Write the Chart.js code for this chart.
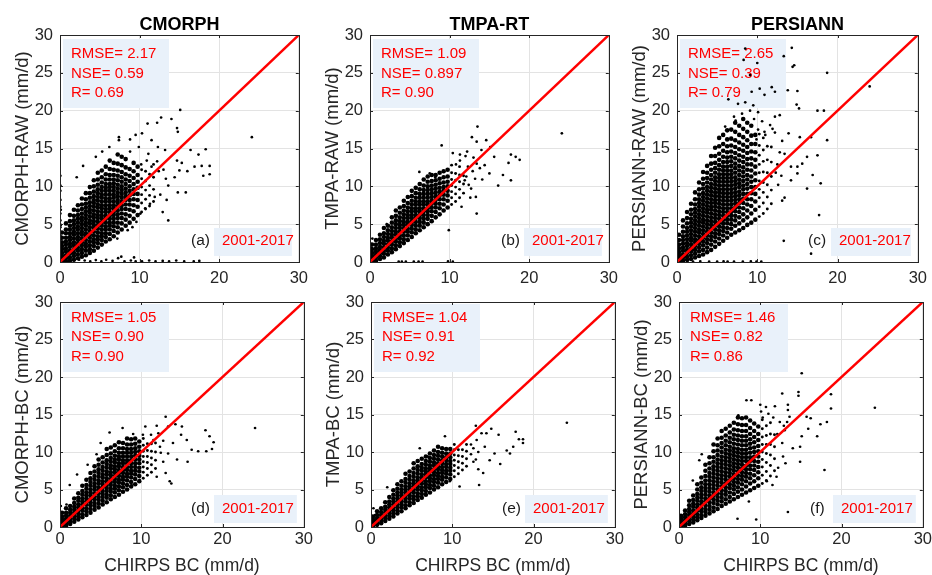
<!DOCTYPE html>
<html>
<head>
<meta charset="utf-8">
<script src="https://cdn.jsdelivr.net/npm/chart.js@4.4.1/dist/chart.umd.min.js"></script>
<style>
  html, body { margin: 0; padding: 0; background: #fff; overflow: hidden; }
  body { width: 932px; height: 575px; position: relative; }
  canvas { position: absolute; }
</style>
</head>
<body>
<div id="wrap"></div>
<script>
const xTicks = [0, 10, 20, 30];
const yTicks = [0, 5, 10, 15, 20, 25, 30];
const oneToOne = [[0, 0], [30, 30]];
const products = ['CMORPH', 'TMPA-RT', 'PERSIANN'];
const yTitles = ['CMORPH-RAW (mm/d)', 'TMPA-RAW (mm/d)', 'PERSIANN-RAW (mm/d)',
                 'CMORPH-BC (mm/d)', 'TMPA-BC (mm/d)', 'PERSIANN-BC (mm/d)'];
const xTitle = 'CHIRPS BC (mm/d)';
const panelTags = ['(a)', '(b)', '(c)', '(d)', '(e)', '(f)'];
const period = '2001-2017';
const rmse = ['2.17', '1.09', '2.65', '1.05', '1.04', '1.46'];
const nse = ['0.59', '0.897', '0.39', '0.90', '0.91', '0.82'];
const corr = ['0.69', '0.90', '0.79', '0.90', '0.92', '0.86'];

// CHIRPS BC value of each column of the dense part of the clouds
const colX = [0.25,0.75,1.25,1.75,2.25,2.75,3.25,3.75,4.25,4.75,5.25,5.75,6.25,6.75,7.25,7.75,8.25,8.75,9.25,9.75];
// columns of the thinner part just right of it
const outerX = [10.25, 10.75, 11.25, 11.75];

const cmorphRawCore = [
[0.1,0.4,0.8,1.2,1.7,2.1,2.6,3.2,3.9],
[0.1,0.5,0.9,1.4,1.8,2.3,2.7,3.2,3.8,4.3,5.1],
[0.2,0.6,1.1,1.5,2.0,2.4,2.9,3.3,3.8,4.3,4.8,5.4,6.2],
[0.3,0.8,1.2,1.7,2.2,2.6,3.1,3.6,4.0,4.5,5.0,5.5,6.1,6.9],
[0.5,1.0,1.5,1.9,2.4,2.9,3.3,3.8,4.3,4.7,5.2,5.7,6.2,6.8,7.5],
[0.7,1.2,1.7,2.2,2.6,3.1,3.6,4.0,4.5,5.0,5.5,5.9,6.4,7.0,7.6,8.4],
[0.9,1.5,2.0,2.4,2.9,3.4,3.8,4.3,4.8,5.2,5.7,6.2,6.7,7.2,7.7,8.3,9.1],
[1.2,1.7,2.2,2.7,3.2,3.6,4.1,4.6,5.1,5.5,6.0,6.5,6.9,7.4,7.9,8.5,9.1,9.9],
[1.5,2.1,2.6,3.0,3.5,4.0,4.5,4.9,5.4,5.9,6.3,6.8,7.3,7.8,8.2,8.7,9.3,10.0,10.8],
[1.9,2.5,3.0,3.4,3.9,4.4,4.8,5.3,5.8,6.2,6.7,7.2,7.6,8.1,8.6,9.1,9.6,10.2,10.9,11.8],
[2.3,2.9,3.4,3.8,4.3,4.8,5.2,5.7,6.1,6.6,7.1,7.5,8.0,8.5,8.9,9.4,9.9,10.5,11.2,12.1],
[2.7,3.3,3.8,4.3,4.7,5.2,5.7,6.1,6.6,7.0,7.5,8.0,8.4,8.9,9.4,9.8,10.3,10.9,11.6,12.6],
[3.0,3.7,4.3,4.8,5.2,5.7,6.1,6.6,7.1,7.5,8.0,8.4,8.9,9.4,9.9,10.3,10.9,11.5,12.3,13.4],
[3.4,4.1,4.7,5.2,5.7,6.2,6.6,7.1,7.5,8.0,8.5,8.9,9.4,9.9,10.4,10.9,11.5,12.2,13.1],
[3.9,4.6,5.2,5.8,6.3,6.8,7.3,7.8,8.2,8.7,9.2,9.7,10.2,10.8,11.4,12.1,13.0,14.2],
[4.3,5.1,5.8,6.4,7.0,7.5,8.0,8.5,9.0,9.5,10.0,10.6,11.2,11.9,12.8,13.9],
[4.8,5.6,6.3,7.0,7.6,8.2,8.7,9.2,9.7,10.3,10.9,11.6,12.5,13.6],
[5.2,6.1,6.9,7.6,8.2,8.8,9.4,10.0,10.7,11.4,12.3],
[5.7,6.7,7.5,8.3,9.0,9.6,10.3,11.1,12.0,13.1],
[6.2,7.3,8.2,9.0,9.8,10.6,11.5,12.6]];
const cmorphRawOuter = [[6.6,7.8,8.9,9.9,11.0,12.2],[7.0,8.3,9.5,10.7,12.0],[7.4,8.8,10.1,11.6],[8.0,9.6,11.2,12.9]];
const cmorphRawSpread = [[15.1,20.1],[12.7,19.1],[14.0,18.9],[11.0,18.3],[12.2,18.4],[7.4,16.5],[8.8,16.2],
[14.7,17.7],[14.8,17.2],[18.3,14.9],[17.4,14.2],[16.4,14.8],[16.9,12.6],[17.8,12.7],[18.8,12.7],[18.8,11.6],
[18.0,11.4],[16.0,12.0],[14.7,13.4],[15.3,13.1],[15.0,12.1],[14.4,11.2],[13.6,10.1],[14.8,9.2],[15.8,9.2],
[13.4,8.2],[12.9,6.6],[13.6,5.5],[11.3,7.7],[11.9,8.6],[10.1,6.4],[10.7,7.1],[24.1,16.5],[7.2,3.1],
[2.9,12.7],[2.1,11.2],[4.5,13.9],[5.3,14.6],[6.2,15.2],[7.4,16.1],[9.5,16.8],[10.3,17.0],[11.5,16.1],
[12.3,15.2],[11.1,14.3],[13.2,14.8],[9.9,15.2],[8.8,14.6],[10.2,12.9],[10.9,13.4],[11.5,12.6],
[12.2,13.3],[13.0,12.2],[13.3,11.0],[12.4,12.0],[12.6,8.9],[8.5,4.2],[9.6,5.3],[9.1,4.6],
[2.4,0.3],[3.1,0.2],[3.8,0.1],[4.5,0.25],[5.2,0.1],[5.8,0.3],[6.6,0.15],[7.3,0.5],[8.1,0.1],[8.9,0.2],
[9.5,0.1],[10.3,0.1],[11.2,0.2],[12.0,0.1],[12.9,0.15],[13.7,0.1],[14.6,0.2],[15.6,0.1],[16.8,0.1],
[17.5,0.15],[7.7,0.7],[9.3,0.6],[0.05,3.5],[0.05,4.6],[0.05,5.5],[0.05,6.4],[0.05,7.3],[0.05,8.2],
[0.05,9.4],[0.05,10.1],[0.05,11.4],[0.1,6.9],[0.1,4.9]];

const tmpaRawCore = [
[0.1,0.4,0.8,1.2,1.7,2.3],
[0.2,0.6,1.0,1.4,1.8,2.3,2.9],
[0.4,0.8,1.2,1.6,2.0,2.5,3.0,3.6],
[0.6,1.1,1.5,1.9,2.4,2.8,3.3,3.8,4.5],
[1.0,1.5,1.9,2.3,2.8,3.2,3.7,4.2,4.8],
[1.3,1.8,2.3,2.7,3.2,3.6,4.1,4.6,5.2,5.9],
[1.7,2.2,2.7,3.1,3.6,4.0,4.5,5.0,5.5,6.1,6.8],
[2.1,2.6,3.1,3.5,4.0,4.5,4.9,5.4,5.9,6.5,7.2],
[2.5,3.0,3.5,4.0,4.4,4.9,5.3,5.8,6.3,6.8,7.4,8.1],
[2.9,3.5,4.0,4.4,4.9,5.3,5.8,6.2,6.7,7.2,7.8,8.6],
[3.3,3.9,4.4,4.9,5.3,5.8,6.2,6.7,7.1,7.6,8.1,8.7,9.4],
[3.8,4.3,4.8,5.3,5.8,6.2,6.7,7.1,7.6,8.0,8.5,9.1,9.8],
[4.2,4.8,5.3,5.8,6.2,6.7,7.1,7.6,8.0,8.5,9.0,9.6,10.3],
[4.6,5.2,5.7,6.2,6.7,7.1,7.6,8.0,8.5,9.0,9.5,10.1,10.9],
[5.0,5.7,6.2,6.7,7.1,7.6,8.0,8.5,9.0,9.5,10.0,10.6,11.3],
[5.4,6.1,6.7,7.2,7.7,8.1,8.6,9.1,9.6,10.1,10.7,11.5],
[5.9,6.6,7.2,7.7,8.2,8.7,9.2,9.7,10.2,10.8,11.5],
[6.3,7.1,7.7,8.3,8.8,9.3,9.8,10.4,11.0,11.8],
[6.8,7.6,8.3,8.9,9.4,9.9,10.5,11.2,12.0],
[7.2,8.1,8.8,9.4,10.0,10.6,11.3,12.2]];
const tmpaRawOuter = [[7.6,8.5,9.3,10.1,10.9,11.8,12.8],[8.0,9.0,9.9,10.8,11.7],[8.5,9.6,10.6,11.5,12.6],[9.1,10.3,11.4]];
const tmpaRawSpread = [[13.5,17.9],[12.8,16.5],[13.4,15.9],[14.6,16.1],[9.0,15.4],[10.4,14.4],[11.3,14.2],
[12.2,14.6],[14.0,14.8],[15.1,15.2],[15.6,13.9],[17.7,14.2],[18.3,13.9],[18.8,13.5],[17.4,13.1],[17.7,10.8],
[16.7,11.5],[16.1,10.1],[15.0,11.7],[14.4,12.8],[13.4,13.0],[12.3,12.6],[11.9,10.8],[12.7,9.7],[13.3,8.6],
[13.4,6.4],[11.5,7.3],[9.9,4.2],[6.2,11.9],[7.5,11.7],[8.2,11.2],[2.1,5.0],[1.8,3.3],[0.3,3.1],[24.1,17.0],
[12.1,11.3],[12.4,10.2],[10.8,12.9],[12.9,12.0],[13.2,11.0],[12.6,8.5],[13.8,12.4],[14.1,10.9],[13.0,13.8],
[11.3,13.4],[12.0,14.0],[3.6,0.05],[4.0,0.05],[4.5,0.05],[5.5,0.05],[6.1,0.05],[6.6,0.05],[9.8,0.1],[10.4,0.05]];

const persiannRawCore = [
[0.1,0.5,0.9,1.3,1.8,2.3,2.9,3.6],
[0.2,0.6,1.0,1.5,1.9,2.4,2.9,3.4,4.0,4.7,5.5],
[0.3,0.7,1.2,1.6,2.1,2.5,3.0,3.5,4.0,4.5,5.1,5.8,6.6],
[0.4,0.9,1.4,1.8,2.3,2.8,3.2,3.7,4.2,4.7,5.2,5.7,6.3,6.9,7.7],
[0.6,1.1,1.6,2.1,2.6,3.0,3.5,4.0,4.5,5.0,5.5,6.0,6.5,7.0,7.6,8.3,9.2],
[0.8,1.4,1.9,2.4,2.9,3.4,3.9,4.3,4.8,5.3,5.8,6.3,6.8,7.3,7.8,8.3,8.9,9.6,10.5],
[1.0,1.6,2.2,2.7,3.2,3.7,4.2,4.7,5.2,5.6,6.1,6.6,7.1,7.6,8.1,8.6,9.1,9.7,10.3,11.0,11.9],
[1.3,1.9,2.5,3.0,3.5,4.0,4.5,5.0,5.5,6.0,6.5,6.9,7.4,7.9,8.4,8.9,9.4,9.9,10.5,11.1,11.8,12.7],
[1.6,2.3,2.9,3.4,3.9,4.4,4.9,5.4,5.9,6.4,6.9,7.3,7.8,8.3,8.8,9.3,9.8,10.3,10.9,11.5,12.2,13.0,14.0],
[2.0,2.7,3.3,3.8,4.3,4.8,5.3,5.8,6.3,6.8,7.3,7.8,8.2,8.7,9.2,9.7,10.2,10.7,11.2,11.8,12.4,13.1,14.0,15.1],
[2.4,3.1,3.7,4.2,4.7,5.2,5.7,6.2,6.7,7.2,7.7,8.2,8.7,9.2,9.6,10.1,10.6,11.1,11.6,12.2,12.8,13.5,14.3,15.3,16.4],
[2.8,3.5,4.1,4.6,5.1,5.6,6.1,6.6,7.1,7.6,8.1,8.6,9.1,9.6,10.1,10.6,11.1,11.6,12.1,12.6,13.2,13.9,14.7,15.6,16.8],
[3.2,3.9,4.5,5.1,5.6,6.1,6.6,7.1,7.6,8.1,8.6,9.1,9.6,10.1,10.6,11.1,11.6,12.1,12.6,13.2,13.8,14.5,15.3,16.2,17.4],
[3.6,4.4,5.0,5.6,6.1,6.6,7.1,7.6,8.1,8.6,9.1,9.6,10.1,10.6,11.1,11.6,12.1,12.7,13.3,13.9,14.6,15.4,16.3,17.5],
[3.9,4.8,5.5,6.1,6.7,7.2,7.7,8.2,8.7,9.2,9.7,10.2,10.7,11.2,11.8,12.4,13.0,13.7,14.4,15.2,16.1,17.2,18.4],
[4.2,5.1,5.9,6.6,7.2,7.8,8.3,8.8,9.3,9.9,10.4,10.9,11.5,12.1,12.7,13.4,14.1,14.9,15.8,16.8,18.0],
[4.5,5.5,6.3,7.1,7.8,8.4,9.0,9.6,10.1,10.7,11.3,11.9,12.5,13.2,13.9,14.7,15.5,16.5,17.6,18.9],
[4.9,5.9,6.8,7.6,8.3,9.0,9.7,10.3,10.9,11.5,12.2,12.9,13.6,14.4,15.2,16.1,17.2,18.4],
[5.2,6.4,7.4,8.3,9.1,9.9,10.6,11.3,12.1,12.9,13.7,14.6,15.6,16.7,18.0],
[5.6,6.9,8.0,9.0,9.9,10.8,11.7,12.6,13.5,14.5,15.6,16.8]];
const persiannRawOuter = [[6.0,7.3,8.5,9.6,10.7,11.8,12.9,14.1,15.4,16.9],[6.4,7.8,9.2,10.5,11.9,13.3,14.8,16.4],
[7.0,8.6,10.2,11.8,13.5,15.3],[7.7,9.5,11.3,13.2,15.2]];
const persiannRawSpread = [[14.3,28.3],[14.6,26.0],[14.4,25.8],[18.7,25.0],[24.0,23.2],[13.3,27.2],[13.8,22.7],
[15.0,22.6],[14.9,20.8],[15.2,20.3],[17.5,20.0],[18.3,20.0],[18.7,16.1],[16.7,16.5],[15.3,16.5],[13.9,17.0],
[17.5,14.1],[16.2,13.9],[15.6,13.0],[15.0,12.6],[14.2,12.6],[15.0,11.7],[14.2,10.8],[16.9,11.5],[17.9,10.4],
[16.2,9.7],[13.4,8.5],[13.1,8.1],[17.7,6.2],[13.3,2.8],[16.7,1.1],[12.2,19.2],[12.8,19.4],[11.6,18.1],
[11.9,17.6],[10.9,17.2],[10.1,19.8],[9.1,20.0],[8.1,19.6],[7.1,19.2],[8.5,21.1],[9.3,22.5],[10.3,22.9],
[10.9,22.1],[11.8,23.1],[12.2,22.5],[7.6,20.9],[9.1,24.7],[8.3,26.7],[8.5,28.2],[10.0,26.3],[6.4,21.5],
[9.5,20.7],[7.3,18.7],[6.0,17.9],[12.3,11.8],[12.6,10.2],[12.8,14.5],[13.1,16.0],[12.2,17.1],
[12.5,12.9],[13.4,14.3],[13.0,11.4],[10.1,17.5],[10.6,18.6],[9.6,18.9],[9.9,16.2],[11.0,16.8],
[0.6,0.05],[1.3,0.05],[2.0,0.05],[2.9,0.1],[4.0,0.05],[5.0,0.05],[5.8,0.1],[6.3,0.05],
[7.1,0.05],[8.2,0.05],[9.2,0.1],[9.9,0.05],[10.5,0.05],[0.05,1.5],[0.05,2.5],[0.05,3.6]];

const cmorphBcCore = [
[0.1,0.4,0.7,1.0,1.4,1.9],
[0.2,0.5,0.8,1.1,1.5,1.9,2.5],
[0.4,0.7,1.1,1.5,1.9,2.3,2.8],
[0.7,1.1,1.5,1.9,2.3,2.7,3.2,3.8],
[1.0,1.4,1.8,2.2,2.6,3.0,3.5,3.9,4.5],
[1.3,1.7,2.2,2.6,3.0,3.4,3.8,4.3,4.8,5.5],
[1.6,2.1,2.5,3.0,3.4,3.8,4.2,4.6,5.1,5.6,6.3],
[1.9,2.4,2.9,3.3,3.7,4.2,4.6,5.0,5.5,6.0,6.5,7.2],
[2.3,2.8,3.2,3.7,4.1,4.5,5.0,5.4,5.8,6.3,6.8,7.4,8.1],
[2.6,3.1,3.6,4.0,4.5,4.9,5.3,5.8,6.2,6.7,7.2,7.7,8.3,9.0],
[3.0,3.5,4.0,4.4,4.8,5.3,5.7,6.1,6.6,7.0,7.5,8.0,8.6,9.3],
[3.3,3.9,4.3,4.8,5.2,5.6,6.1,6.5,7.0,7.4,7.9,8.4,8.9,9.6,10.4],
[3.7,4.2,4.7,5.1,5.6,6.0,6.4,6.9,7.3,7.8,8.2,8.7,9.2,9.8,10.6],
[4.0,4.6,5.1,5.5,6.0,6.4,6.8,7.3,7.7,8.1,8.6,9.0,9.5,10.1,10.9],
[4.3,4.9,5.4,5.9,6.3,6.8,7.2,7.6,8.1,8.5,9.0,9.4,9.9,10.5,11.3],
[4.7,5.3,5.8,6.3,6.7,7.2,7.6,8.0,8.5,8.9,9.4,9.9,10.5,11.2],
[5.0,5.6,6.2,6.7,7.1,7.6,8.0,8.5,8.9,9.4,9.9,10.4,11.0,11.8],
[5.4,6.0,6.6,7.1,7.5,8.0,8.5,8.9,9.4,9.9,10.4,11.0,11.7],
[5.7,6.4,7.0,7.5,8.0,8.5,9.0,9.5,10.0,10.5,11.1,11.8],
[6.1,6.8,7.4,7.9,8.5,9.0,9.5,10.1,10.7,11.4]];
const cmorphBcOuter = [[6.5,7.3,8.0,8.7,9.4,10.1,10.9,11.8],[6.9,7.8,8.6,9.4,10.2,11.1],[7.3,8.3,9.2,10.1,11.1],[7.8,8.9,10.0,11.2]];
const cmorphBcSpread = [[13.0,14.7],[14.2,13.7],[11.9,13.5],[10.5,13.4],[7.7,13.2],[9.0,12.4],[13.3,13.4],
[15.0,13.4],[17.9,12.9],[18.4,12.1],[18.9,11.3],[18.7,10.4],[18.0,10.1],[17.0,10.1],[16.2,10.3],[15.7,8.7],
[14.4,9.0],[13.5,6.1],[13.7,5.8],[13.0,7.2],[11.9,6.7],[24.0,13.2],[6.1,12.6],[5.0,11.2],[4.5,9.7],[3.4,8.3],
[2.1,7.0],[1.2,5.6],[0.8,3.0],[0.1,2.8],[14.9,12.3],[15.6,11.6],[13.9,11.2],[13.3,9.8],[12.3,10.7],[12.7,8.7],
[11.5,11.6],[10.2,12.3],[12.1,12.5],[9.8,6.3],[8.8,5.6],[12.4,9.9],[12.7,11.5],[11.2,12.3]];

const tmpaBcCore = [
[0.1,0.4,0.7,1.0,1.4],
[0.3,0.6,0.9,1.2,1.6,2.1],
[0.5,0.9,1.2,1.6,2.0,2.5],
[0.8,1.2,1.5,1.9,2.3,2.7,3.3],
[1.1,1.5,1.9,2.2,2.6,3.0,3.4,4.0],
[1.4,1.8,2.2,2.6,3.0,3.4,3.8,4.3,4.9],
[1.8,2.2,2.6,3.0,3.4,3.8,4.2,4.6,5.1,5.7],
[2.1,2.6,3.0,3.4,3.8,4.2,4.6,5.0,5.5,6.1],
[2.5,2.9,3.4,3.8,4.2,4.6,5.0,5.4,5.9,6.4,7.1],
[2.9,3.3,3.8,4.2,4.6,5.0,5.4,5.8,6.3,6.8,7.4],
[3.2,3.7,4.1,4.6,5.0,5.4,5.8,6.2,6.7,7.2,7.8,8.5],
[3.6,4.1,4.5,5.0,5.4,5.8,6.2,6.6,7.1,7.6,8.1,8.8],
[3.9,4.4,4.9,5.3,5.8,6.2,6.6,7.0,7.5,7.9,8.4,9.1],
[4.3,4.8,5.3,5.7,6.1,6.6,7.0,7.4,7.8,8.3,8.8,9.4],
[4.6,5.2,5.6,6.1,6.5,6.9,7.4,7.8,8.2,8.7,9.2,9.8],
[5.0,5.5,6.0,6.4,6.9,7.3,7.7,8.2,8.6,9.1,9.6,10.2],
[5.3,5.9,6.4,6.8,7.2,7.7,8.1,8.5,9.0,9.5,10.0,10.7],
[5.7,6.3,6.7,7.2,7.6,8.0,8.5,8.9,9.4,9.9,10.5],
[6.0,6.6,7.1,7.5,8.0,8.4,8.9,9.3,9.8,10.4],
[6.4,7.0,7.5,7.9,8.4,8.8,9.3,9.8,10.4]];
const tmpaBcOuter = [[6.7,7.5,8.2,8.9,9.6,10.3,11.0],[7.1,7.9,8.7,9.5,10.3],[7.6,8.5,9.4,10.3],[8.1,9.1,10.1,11.0]];
const tmpaBcSpread = [[12.9,13.5],[14.8,13.1],[14.2,12.5],[15.7,12.3],[17.8,12.7],[18.2,11.7],[18.7,11.7],
[18.7,11.2],[17.5,10.7],[17.1,9.8],[16.7,10.2],[15.9,8.4],[15.2,9.8],[13.3,5.6],[13.8,7.2],[14.6,8.9],
[13.2,7.7],[9.1,12.1],[12.3,11.0],[13.0,11.6],[13.6,12.5],[14.0,10.7],[12.6,8.7],[9.7,6.1],[10.9,5.4],
[24.1,13.9],[6.0,10.5],[7.0,9.4],[2.0,5.3],[0.3,2.5],[0.5,1.6],[12.3,9.7],[12.6,10.5],[12.9,9.0],[13.2,10.0]];

const persiannBcCore = [
[0.1,0.4,0.7,1.1,1.5],
[0.2,0.5,0.9,1.3,1.7,2.2],
[0.4,0.8,1.2,1.6,2.0,2.4,2.9,3.5],
[0.6,1.0,1.4,1.8,2.2,2.7,3.1,3.6,4.2],
[0.9,1.3,1.7,2.2,2.6,3.0,3.5,3.9,4.4,5.0,5.7],
[1.2,1.6,2.1,2.5,3.0,3.4,3.9,4.3,4.8,5.3,5.9,6.6],
[1.5,2.0,2.4,2.9,3.4,3.8,4.3,4.8,5.2,5.7,6.2,6.8,7.5,8.3],
[1.8,2.3,2.8,3.3,3.8,4.2,4.7,5.2,5.7,6.2,6.7,7.2,7.8,8.5,9.3],
[2.1,2.6,3.2,3.7,4.2,4.6,5.1,5.6,6.1,6.6,7.1,7.6,8.1,8.7,9.3,10.1,11.0],
[2.4,3.0,3.5,4.0,4.5,5.0,5.5,6.0,6.5,7.0,7.5,8.0,8.5,9.0,9.6,10.2,10.9,11.8],
[2.8,3.4,3.9,4.4,4.9,5.4,5.9,6.4,6.9,7.4,7.9,8.4,8.9,9.4,10.0,10.6,11.2,11.9,12.8],
[3.1,3.7,4.3,4.8,5.3,5.8,6.3,6.8,7.3,7.8,8.3,8.8,9.3,9.8,10.3,10.9,11.5,12.2,13.1],
[3.4,4.0,4.6,5.2,5.7,6.2,6.7,7.2,7.7,8.2,8.7,9.2,9.7,10.2,10.7,11.3,11.9,12.6,13.5],
[3.7,4.4,5.0,5.5,6.0,6.5,7.0,7.5,8.0,8.5,9.0,9.5,10.0,10.5,11.1,11.7,12.3,13.0,13.9],
[4.0,4.7,5.3,5.9,6.4,6.9,7.4,7.9,8.4,8.9,9.4,9.9,10.4,11.0,11.6,12.2,12.9,13.7,14.6],
[4.3,5.0,5.7,6.3,6.8,7.3,7.8,8.3,8.8,9.3,9.8,10.3,10.9,11.5,12.1,12.8,13.6,14.5],
[4.6,5.4,6.1,6.7,7.2,7.7,8.2,8.8,9.3,9.8,10.3,10.9,11.5,12.1,12.8,13.6,14.6],
[4.9,5.8,6.5,7.1,7.7,8.2,8.8,9.3,9.9,10.5,11.1,11.7,12.4,13.2,14.2],
[5.2,6.1,6.9,7.6,8.2,8.8,9.4,10.0,10.6,11.3,12.0,12.8,13.8],
[5.5,6.5,7.3,8.0,8.7,9.4,10.1,10.8,11.6,12.4,13.4]];
const persiannBcOuter = [[5.8,6.9,8.0,9.0,10.0,11.0,12.0,13.1,14.3],[6.2,7.4,8.6,9.8,11.0,12.2,13.5],
[6.8,8.2,9.6,11.0,12.4,13.9],[7.5,9.1,10.7,12.3]];
const persiannBcSpread = [[15.1,20.5],[18.7,17.7],[18.7,15.8],[24.1,15.9],[17.9,7.6],[13.4,2.0],[9.5,1.0],
[7.2,1.1],[8.6,3.4],[14.7,18.0],[14.7,17.5],[12.7,17.8],[8.9,16.9],[8.3,16.9],[10.0,16.3],[10.7,16.0],
[11.8,16.1],[13.4,16.3],[13.4,15.6],[13.6,14.7],[15.7,14.7],[16.2,14.5],[17.4,13.7],[18.2,14.0],[17.0,12.1],
[15.9,13.1],[15.1,12.1],[14.9,10.7],[14.9,8.7],[14.0,10.5],[12.8,9.4],[13.1,8.5],[12.0,6.7],[11.5,5.6],
[10.8,6.1],[7.3,14.9],[6.3,12.7],[2.8,9.7],[2.5,8.9],[3.2,8.3],[1.7,6.2],[12.1,12.4],[12.4,14.0],[12.7,11.2],
[13.0,12.9],[12.2,7.9],[10.3,14.6],[11.0,15.1],[13.3,14.0],[11.6,14.6],[12.9,13.5],[10.1,15.4]];

const panelCore = [cmorphRawCore, tmpaRawCore, persiannRawCore, cmorphBcCore, tmpaBcCore, persiannBcCore];
const panelOuter = [cmorphRawOuter, tmpaRawOuter, persiannRawOuter, cmorphBcOuter, tmpaBcOuter, persiannBcOuter];
const panelSpread = [cmorphRawSpread, tmpaRawSpread, persiannRawSpread, cmorphBcSpread, tmpaBcSpread, persiannBcSpread];

const FONT = '"Liberation Sans", Arial, sans-serif';
Chart.defaults.font.family = FONT;
Chart.defaults.color = '#262626';
Chart.defaults.animation = false;

// canvas placement of the two rows of panels
const rows = [
  {top: 0, h: 290, padTop: 0, axisH: 28, tickPad: 7, lefts: [0, 310, 617], plotW: [243, 243, 245],
   boxTop: 4, boxBot: 73, textY: [19, 38.5, 58], yrTop: 34, yrBot: 6, yrY: 21},
  {top: 280, h: 295, padTop: 22, axisH: 48, tickPad: 3, lefts: [0, 311, 619], plotW: [244, 244, 244],
   boxTop: 2, boxBot: 70, textY: [15.5, 35, 55], yrTop: 32, yrBot: 4, yrY: 18}
];

const decor = {
  id: 'decor',
  beforeDatasetsDraw(chart, args, o) {
    const a = chart.chartArea, ctx = chart.ctx, L = rows[o.row];
    ctx.save();
    ctx.fillStyle = '#e9f1fa';
    ctx.fillRect(a.left + 3, a.top + L.boxTop, 106, L.boxBot - L.boxTop);
    ctx.fillRect(a.left + 154, a.bottom - L.yrTop, a.right - 7 - a.left - 154, L.yrTop - L.yrBot);
    ctx.textBaseline = 'middle';
    ctx.textAlign = 'left';
    ctx.font = '15px ' + FONT;
    ctx.fillStyle = '#ff0000';
    ['RMSE= ' + rmse[o.i], 'NSE= ' + nse[o.i], 'R= ' + corr[o.i]]
      .forEach((t, k) => ctx.fillText(t, a.left + 11, a.top + L.textY[k]));
    ctx.fillText(period, a.left + 162, a.bottom - L.yrY);
    ctx.fillStyle = '#1a1a1a';
    ctx.font = '15.5px ' + FONT;
    ctx.fillText(panelTags[o.i], a.left + 131, a.bottom - L.yrY);
    ctx.restore();
  },
  afterDatasetsDraw(chart) {
    const a = chart.chartArea, ctx = chart.ctx;
    const sx = chart.scales.x, sy = chart.scales.y;
    ctx.save();
    ctx.strokeStyle = '#262626';
    ctx.lineWidth = 1;
    ctx.beginPath();
    xTicks.forEach(v => {
      const p = Math.round(sx.getPixelForValue(v)) + 0.5;
      ctx.moveTo(p, a.bottom); ctx.lineTo(p, a.bottom - 3);
      ctx.moveTo(p, a.top); ctx.lineTo(p, a.top + 3);
    });
    yTicks.forEach(v => {
      const p = Math.round(sy.getPixelForValue(v)) + 0.5;
      ctx.moveTo(a.left, p); ctx.lineTo(a.left + 3, p);
      ctx.moveTo(a.right, p); ctx.lineTo(a.right - 3, p);
    });
    ctx.stroke();
    ctx.strokeRect(Math.round(a.left) + 0.5, Math.round(a.top) + 0.5,
                   Math.round(a.right - a.left), Math.round(a.bottom - a.top));
    ctx.restore();
  }
};

function toPoints(cols, xs) {
  const pts = [];
  cols.forEach((ys, k) => ys.forEach(y => pts.push([xs[k], y])));
  return pts;
}

const wrap = document.getElementById('wrap');
for (let i = 0; i < 6; i++) {
  const r = i < 3 ? 0 : 1, c = i % 3, L = rows[r];
  const padRight = 12;
  const cv = document.createElement('canvas');
  const w = 60 + L.plotW[c] + padRight;
  cv.width = w; cv.height = L.h;
  cv.style.left = L.lefts[c] + 'px';
  cv.style.top = L.top + 'px';
  cv.style.width = w + 'px';
  cv.style.height = L.h + 'px';
  wrap.appendChild(cv);

  new Chart(cv, {
    type: 'scatter',
    data: {
      datasets: [
        {data: oneToOne, showLine: true, borderColor: '#ff0000', borderWidth: 2.5, pointRadius: 0},
        {data: panelSpread[i], backgroundColor: '#000', pointRadius: 1.35, pointBorderWidth: 0},
        {data: toPoints(panelOuter[i], outerX), backgroundColor: '#000', pointRadius: 1.45, pointBorderWidth: 0},
        {data: toPoints(panelCore[i], colX), backgroundColor: '#000', pointRadius: 2.3, pointBorderWidth: 0}
      ]
    },
    options: {
      responsive: false,
      devicePixelRatio: 1,
      events: [],
      layout: {padding: {top: L.padTop, right: padRight, left: 0, bottom: 0}},
      scales: {
        x: {
          type: 'linear', min: 0, max: 30,
          afterBuildTicks: s => { s.ticks = xTicks.map(v => ({value: v})); },
          afterFit: s => { s.height = L.axisH; },
          grid: {color: '#e3e3e3', drawTicks: false},
          border: {display: false},
          ticks: {font: {size: 16.5}, color: '#262626', padding: L.tickPad, maxRotation: 0},
          title: {display: r === 1, text: xTitle, color: '#262626',
                  font: {size: 17.5, lineHeight: 1}, padding: {top: 0, bottom: 0}}
        },
        y: {
          type: 'linear', min: 0, max: 30,
          afterBuildTicks: s => { s.ticks = yTicks.map(v => ({value: v})); },
          afterFit: s => { s.width = 60; },
          grid: {color: '#e3e3e3', drawTicks: false},
          border: {display: false},
          ticks: {font: {size: 16.5}, color: '#262626', padding: 7},
          title: {display: true, text: yTitles[i], color: '#262626',
                  font: {size: 18.5, lineHeight: 1.2}, padding: {top: 12, bottom: 0}}
        }
      },
      plugins: {
        legend: {display: false},
        tooltip: {enabled: false},
        title: {display: r === 0, text: products[c], fullSize: false, color: '#000',
                font: {size: 18, weight: 'bold', lineHeight: 1}, padding: {top: 16, bottom: 1}},
        decor: {i: i, row: r}
      }
    },
    plugins: [decor]
  });
}
</script>
</body>
</html>
